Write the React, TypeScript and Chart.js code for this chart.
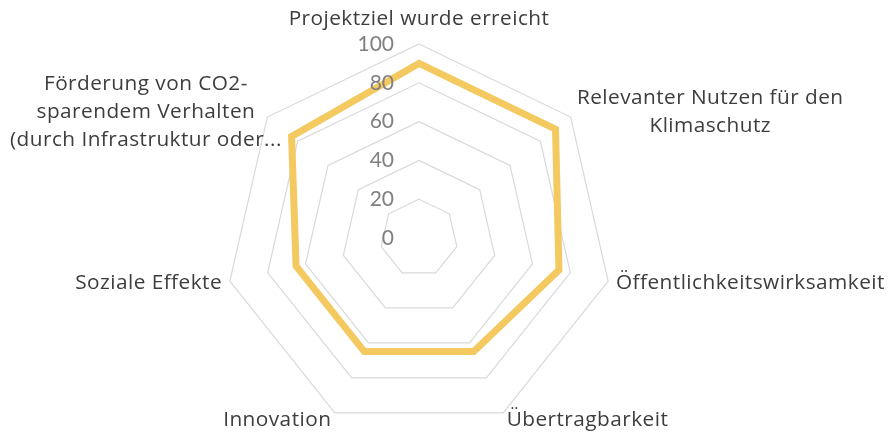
import React, { useEffect, useRef } from "react";
import { Chart, registerables } from "chart.js";

Chart.register(...registerables);

const categories: (string | string[])[] = [
  "Projektziel wurde erreicht",
  ["Relevanter Nutzen für den", "Klimaschutz"],
  "Öffentlichkeitswirksamkeit",
  "Übertragbarkeit",
  "Innovation",
  "Soziale Effekte",
  ["Förderung von CO2-", "sparendem Verhalten", "(durch Infrastruktur oder..."],
];

const seriesValues = [90, 90, 74, 65, 65, 65, 84];
const tickValues = [0, 20, 40, 60, 80, 100];

const labelPlugin = {
  id: "customLabels",
  afterDraw(chart: any) {
    const scale = chart.scales.r;
    if (!scale) return;
    const ctx = chart.ctx;
    const R = scale.drawingArea;
    const W = chart.width;
    ctx.save();
    // tick labels
    ctx.font = `21px Lato`;
    ctx.fillStyle = "#808080";
    ctx.textAlign = "right";
    ctx.textBaseline = "middle";
    tickValues.forEach((v) => {
      const d = scale.getDistanceFromCenterForValue(v);
      ctx.fillText(String(v), scale.xCenter - 25, scale.yCenter - d);
    });
    // point labels
    ctx.font = `20.8px "Open Sans"`;
    (ctx as any).letterSpacing = "0.45px";
    ctx.fillStyle = "#3d3d3d";
    const lineH = 28;
    const margin = 10;
    categories.forEach((lab, i) => {
      const lines = Array.isArray(lab) ? lab : [lab];
      const p = scale.getPointPosition(i, R + 8);
      const cos = Math.cos(p.angle);
      const sin = Math.sin(p.angle);
      const widths = lines.map((l) => ctx.measureText(l).width);
      const maxW = Math.max(...widths);
      let cx: number;
      let cy: number;
      if (cos > 0.05) {
        cx = p.x + maxW / 2;
      } else if (cos < -0.05) {
        cx = p.x - maxW / 2;
      } else {
        cx = p.x;
      }
      cx = Math.max(margin + maxW / 2, Math.min(W - margin - maxW / 2, cx));
      if (sin < -0.99) {
        cy = p.y - (lines.length * lineH) / 2 - 3;
      } else {
        cy = p.y;
      }
      ctx.textAlign = "center";
      ctx.textBaseline = "middle";
      lines.forEach((l, k) => {
        const y = cy + (k - (lines.length - 1) / 2) * lineH;
        ctx.fillText(l, cx, y);
      });
    });
    ctx.restore();
  },
};

export default function App() {
  const ref = useRef<HTMLCanvasElement | null>(null);
  useEffect(() => {
    if (!ref.current) return;
    const chart = new Chart(ref.current, {
      type: "radar",
      data: {
        labels: categories as any,
        datasets: [
          {
            data: seriesValues,
            borderColor: "#F4C95F",
            backgroundColor: "transparent",
            borderWidth: 7,
            borderJoinStyle: "miter",
            pointRadius: 0,
            pointHoverRadius: 0,
            fill: false,
          },
        ],
      },
      options: {
        animation: false,
        responsive: true,
        maintainAspectRatio: false,
        layout: { padding: { left: 225, top: 44, right: 283, bottom: 5 } },
        plugins: { legend: { display: false }, tooltip: { enabled: false } },
        scales: {
          r: {
            min: 0,
            max: 100,
            ticks: { stepSize: 20, display: false },
            pointLabels: { display: false },
            angleLines: { display: false },
            grid: { color: "#d9d9d9", lineWidth: 1.2 },
          },
        },
      },
      plugins: [labelPlugin],
    });
    return () => chart.destroy();
  }, []);
  return (
    <div style={{ position: "fixed", left: 0, top: 0, width: 896, height: 437, background: "#fff" }}>
      <canvas ref={ref} />
    </div>
  );
}
